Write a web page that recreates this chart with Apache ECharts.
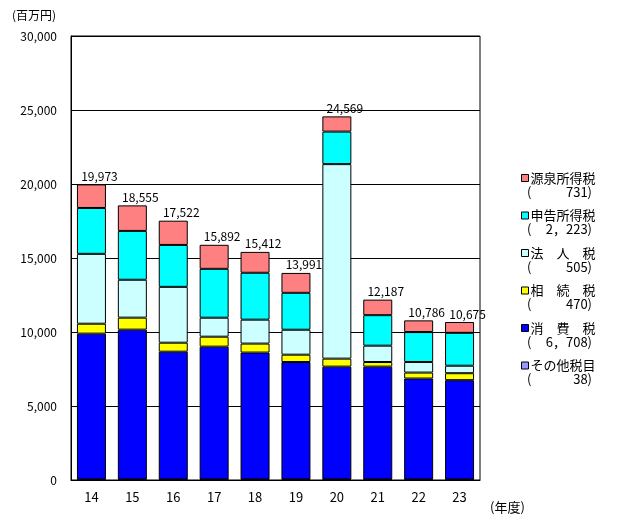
<!DOCTYPE html>
<html><head><meta charset="utf-8">
<script src="https://cdn.jsdelivr.net/npm/echarts@6/dist/echarts.min.js"></script>
<style>html,body{margin:0;padding:0;background:#fff}#c{width:620px;height:522px}</style>
</head><body><div id="c"></div>
<script>
var categories = ['14','15','16','17','18','19','20','21','22','23'];
var other      = [40,40,40,40,40,40,40,40,40,38];
var consumption= [9850,10120,8630,8970,8570,7930,7620,7620,6815,6708];
var inheritance= [670,810,607,674,607,498,540,311,404,470];
var corporate  = [4720,2560,3774,1281,1617,1685,13143,1105,715,505];
var selfAssessed=[3100,3300,2831,3303,3168,2494,2197,2062,2021,2223];
var withholding= [1593,1725,1640,1624,1410,1344,1029,1049,791,731];
var totals     = [19973,18555,17522,15892,15412,13991,24569,12187,10786,10675];
var seriesNames = ['源泉所得税','申告所得税','法　人　税','相　続　税','消　費　税','その他税目'];
var legendValues = ['731','2，223','505','470','6，708','38'];
var yTicks = [0,5000,10000,15000,20000,25000,30000];

var FONT = '"Noto Sans CJK JP", sans-serif';
var colors = ['#FF8080','#00FFFF','#CCFFFF','#FFFF00','#0000FF','#9999FF'];
var dataBySeries = [withholding, selfAssessed, corporate, inheritance, consumption, other];

var chart = echarts.init(document.getElementById('c'), null, {renderer:'canvas'});
var series = [];
for (var k = 5; k >= 0; k--) {
  var s = {
    name: seriesNames[k], type: 'bar', stack: 'all', barWidth: 29,
    data: dataBySeries[k],
    itemStyle: {color: colors[k], borderColor: '#000', borderWidth: 1},
    emphasis: {disabled: true}, animation: false
  };
  if (k === 0) {
    s.label = {show: true, position: 'top', distance: 2, offset: [8, 0],
      fontFamily: FONT, fontSize: 12, color: '#000',
      formatter: function(p){ return totals[p.dataIndex].toLocaleString('en-US'); }};
  }
  series.push(s);
}

var graphics = [
  {type:'text', left: 12, top: 9, style:{text:'(百万円)', font:'12px '+FONT, fill:'#000'}},
  {type:'text', left: 490, top: 501, style:{text:'(年度)', font:'13px '+FONT, fill:'#000'}}
];
for (var i = 0; i < legendValues.length; i++) {
  var yy = 192 + 37.5 * i;
  graphics.push({type:'text', x: 527, y: yy, style:{text:'(', font:'13px '+FONT, fill:'#000', textVerticalAlign:'middle', textAlign:'left'}});
  graphics.push({type:'text', x: 592, y: yy, style:{text:legendValues[i] + ')', font:'13px '+FONT, fill:'#000', textVerticalAlign:'middle', textAlign:'right'}});
}

chart.setOption({
  animation: false,
  textStyle: {fontFamily: FONT},
  grid: {left: 71, right: 140, top: 36, bottom: 42, show: true, borderColor: '#000', borderWidth: 1},
  legend: {
    orient: 'vertical', left: 516, top: 166,
    data: seriesNames, icon: 'rect', itemWidth: 7, itemHeight: 7, itemGap: 23.5,
    itemStyle: {borderColor: '#000', borderWidth: 1},
    textStyle: {fontFamily: FONT, fontSize: 13, color: '#000', lineHeight: 14, padding: [0,0,0,-3]},
    selectedMode: false
  },
  xAxis: {
    type: 'category', data: categories,
    axisLine: {show: true, lineStyle: {color: '#000'}},
    axisTick: {show: false},
    axisLabel: {color: '#000', fontSize: 13, margin: 11, fontFamily: FONT}
  },
  yAxis: {
    type: 'value', min: yTicks[0], max: yTicks[yTicks.length-1], interval: 5000,
    axisLine: {show: true, lineStyle: {color: '#000'}},
    axisTick: {show: false},
    splitLine: {show: true, lineStyle: {color: '#000', width: 1}},
    axisLabel: {color: '#000', fontSize: 12, margin: 14, fontFamily: FONT,
      formatter: function(v){ return v.toLocaleString('en-US'); }}
  },
  graphic: graphics,
  series: series
});
</script></body></html>
